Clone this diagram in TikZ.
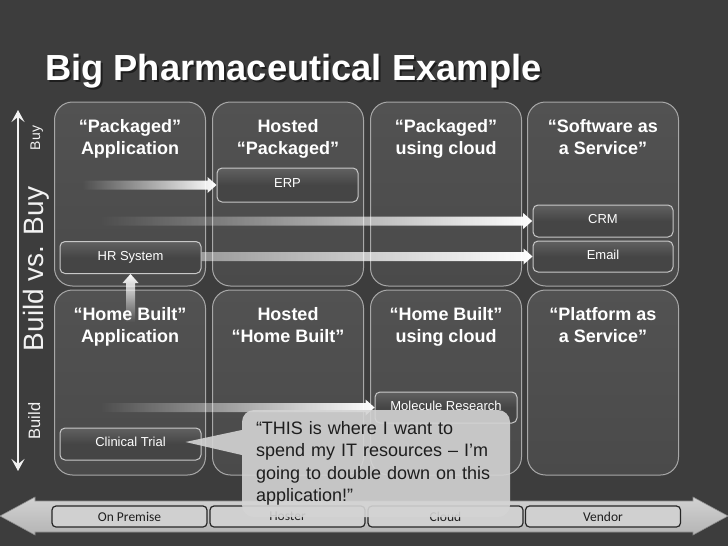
\documentclass[tikz,border=0pt]{standalone}
\usepackage{fontspec}
\setmainfont{Liberation Sans}
\newfontfamily\barfont{Carlito}
\usetikzlibrary{arrows.meta,calc,fadings}
\definecolor{bg}{HTML}{3D3D3D}
\definecolor{boxfill}{HTML}{4A4A4A}
\definecolor{boxtop}{HTML}{525252}
\definecolor{boxline}{HTML}{A8A8A8}
\definecolor{innerfill}{HTML}{454545}
\definecolor{innerline}{HTML}{C8C8C8}
\definecolor{callfill}{HTML}{D4D4D4}
\definecolor{calltext}{HTML}{1E1E1E}
\definecolor{bartop}{HTML}{D2D2D2}
\definecolor{barbot}{HTML}{B4B4B4}
\definecolor{barline}{HTML}{8A8A8A}
\definecolor{barbox}{HTML}{D0D0D0}
\definecolor{barboxline}{HTML}{262626}
\definecolor{axiscol}{HTML}{F2F2F2}
\tikzfading[name=fadeL, left color=transparent!100, middle color=transparent!20, right color=transparent!0]
\tikzfading[name=fadeLhalf, left color=transparent!55, right color=transparent!0]
\tikzfading[name=fadeB, bottom color=transparent!100, top color=transparent!0]
\newcommand{\hgarrow}[3][fadeL]{%
  \fill[white, path fading=#1] let \p1=(#2), \p2=(#3) in
   (\x1,\y2+4.5pt) -- (\x2-9pt,\y2+4.5pt) -- (\x2-9pt,\y2+8pt) -- (\x2,\y2)
   -- (\x2-9pt,\y2-8pt) -- (\x2-9pt,\y2-4.5pt) -- (\x1,\y2-4.5pt) -- cycle;}
\newcommand{\vgarrow}[2]{%
  \fill[white, path fading=fadeB] let \p1=(#1), \p2=(#2) in
   (\x2-4.5pt,\y1) -- (\x2-4.5pt,\y2-9pt) -- (\x2-8pt,\y2-9pt) -- (\x2,\y2)
   -- (\x2+8pt,\y2-9pt) -- (\x2+4.5pt,\y2-9pt) -- (\x2+4.5pt,\y1) -- cycle;}
\tikzset{
  mainbox/.style={draw=boxline, line width=1pt, top color=boxtop, bottom color=boxfill,
    rounded corners=18pt, minimum width=151pt, inner sep=0pt},
  coltitle/.style={text=white, font=\fontsize{18}{22}\selectfont\bfseries, align=center,
    anchor=north, inner sep=0pt},
  inbox/.style={draw=innerline, line width=1pt, top color=innerfill!85!white, bottom color=innerfill,
    middle color=innerfill, rounded corners=5pt, minimum width=141pt, minimum height=32pt,
    inner sep=0pt, text=white, font=\fontsize{13}{15}\selectfont, text height=9.5pt, text depth=4.5pt},
  barbox/.style={draw=barboxline, line width=1.2pt, fill=barbox, rounded corners=4pt,
    minimum width=155pt, minimum height=21pt, inner sep=0pt, text=calltext,
    font=\barfont\fontsize{13.5}{15}\selectfont},
  sidelabel/.style={text=axiscol, rotate=90, anchor=base, inner sep=0pt},
}
\begin{document}
\begin{tikzpicture}[x=1pt, y=-1pt]
\useasboundingbox (0,0) rectangle (728,546);
\fill[bg] (0,0) rectangle (728,546);

% title with drop shadow
\node[anchor=base west, inner sep=0pt, text=black, opacity=0.5, font=\fontsize{36.3}{40}\selectfont\bfseries] (titleshadow) at (47,82) {Big Pharmaceutical Example};
\node[anchor=base west, inner sep=0pt, text=white, font=\fontsize{36.3}{40}\selectfont\bfseries] (title) at (45,80) {Big Pharmaceutical Example};

% main boxes
\node[mainbox, minimum height=184pt] (c11) at (130,194) {};
\node[mainbox, minimum height=184pt] (c12) at (288,194) {};
\node[mainbox, minimum height=184pt] (c13) at (446,194) {};
\node[mainbox, minimum height=184pt] (c14) at (603,194) {};
\node[mainbox, minimum height=185pt] (c21) at (130,382.5) {};
\node[mainbox, minimum height=185pt] (c22) at (288,382.5) {};
\node[mainbox, minimum height=185pt] (c23) at (446,382.5) {};
\node[mainbox, minimum height=185pt] (c24) at (603,382.5) {};

\node[coltitle] (t11) at (130,119) {“Packaged”\\Application};
\node[coltitle] (t12) at (288,119) {Hosted\\“Packaged”};
\node[coltitle] (t13) at (446,119) {“Packaged”\\using cloud};
\node[coltitle] (t14) at (603,119) {“Software as\\a Service”};
\node[coltitle] (t21) at (130,307) {“Home Built”\\Application};
\node[coltitle] (t22) at (288,307) {Hosted\\“Home Built”};
\node[coltitle] (t23) at (446,307) {“Home Built”\\using cloud};
\node[coltitle] (t24) at (603,307) {“Platform as\\a Service”};

% inner boxes
\node[inbox, minimum height=34pt] (erp) at (287.5,185) {ERP};
\node[inbox] (hr) at (130.5,257.5) {HR System};
\node[inbox, minimum width=140pt] (crm) at (603,221) {CRM};
\node[inbox, minimum width=140pt, minimum height=31pt] (email) at (603,256.5) {Email};
\node[inbox, minimum width=142pt, minimum height=31pt] (mol) at (446,407.5) {Molecule Research};
\node[inbox] (clin) at (130.5,444) {Clinical Trial};

% gradient arrows
\coordinate (erpstart) at (82,185);
\coordinate (crmstart) at (100,221);
\coordinate (molstart) at (100,407);
\coordinate (vstart) at (130.5,322);
\hgarrow{erpstart}{erp.west}
\hgarrow{crmstart}{crm.west}
\hgarrow[fadeLhalf]{hr.east}{email.west}
\hgarrow{molstart}{mol.west}
\vgarrow{vstart}{hr.south}

% side axis
\coordinate (axtop) at (18,110);
\coordinate (axbot) at (18,471);
\draw[axiscol, line width=2pt, {Stealth[length=12pt, width=13pt, inset=5pt]}-{Stealth[length=12pt, width=13pt, inset=5pt]}] (axtop) -- (axbot);
\node[sidelabel, font=\fontsize{14}{16}\selectfont] (buy) at (40,138) {Buy};
\node[sidelabel, font=\fontsize{28}{32}\selectfont] (bvb) at (43,269) {Build vs. Buy};
\node[sidelabel, font=\fontsize{16.5}{18}\selectfont] (build) at (40,421) {Build};

% bottom bar
\coordinate (barL) at (0,516);
\coordinate (barR) at (728,516);
\draw[barline, line width=0.6pt, top color=bartop, bottom color=barbot]
  (barL) -- (35,497) -- (35,501) -- (693,501) -- (693,497) -- (barR) -- (693,535) -- (693,532) -- (35,532) -- (35,535) -- cycle;
\node[barbox] (b1) at (129.5,516.5) {On Premise};
\node[barbox] (b2) at (287.5,516.5) {Hoster};
\node[barbox] (b3) at (445.5,516.5) {Cloud};
\node[barbox] (b4) at (603,516.5) {Vendor};

% callout
\node[fill=callfill, fill opacity=0.9, text opacity=1, rounded corners=12pt, minimum width=268pt,
  minimum height=107pt, text width=240pt, inner xsep=14pt, inner ysep=0pt, align=left,
  text=calltext, font=\fontsize{18}{22.5}\selectfont] (callout) at (376,463.5)
  {“THIS is where I want to\\spend my IT resources – I’m\\going to double down on this\\application!”};
\coordinate (tip) at ($(clin.east)+(-16,-2)$);
\fill[callfill, fill opacity=0.9] ($(callout.west)+(0,-33.5)$) -- (tip) -- ($(callout.west)+(0,-8.5)$) -- cycle;
\end{tikzpicture}
\end{document}
